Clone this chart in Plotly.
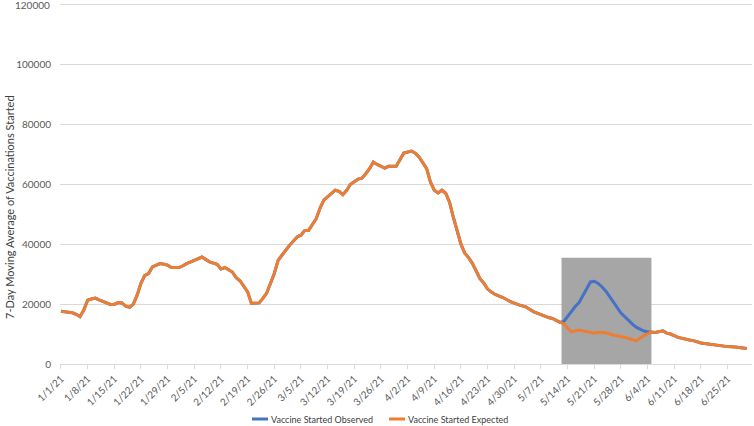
import pandas as pd
import plotly.graph_objects as go

# ---- data (day offsets from 2021-01-01) ----
start_date = "2021-01-01"
expected_days = [0, 2, 3, 4, 5, 6, 7, 8, 9, 10, 12, 13, 14, 15, 16, 17, 18, 19, 20, 21,
                 22, 23, 24, 26, 27, 28, 29, 31, 32, 33, 35, 37, 39, 41, 42, 43, 45, 46, 47, 49,
                 50, 52, 53, 54, 56, 57, 58, 60, 62, 63, 64, 65, 67, 68, 69, 71, 72, 73, 74, 75,
                 76, 78, 79, 80, 81, 82, 83, 85, 86, 88, 89, 90, 92, 93, 94, 96, 97, 98, 99, 100,
                 101, 102, 103, 104, 105, 106, 107, 108, 109, 110, 111, 112, 113, 114, 116, 118, 120, 122, 124, 126,
                 128, 129, 131, 132, 133, 134, 136, 137, 138, 140, 141, 143, 145, 147, 148, 149, 151, 152, 153, 155,
                 156, 158, 159, 160, 162, 165, 166, 168, 170, 171, 173, 175, 177, 179, 180]
expected_values = [17600, 17400, 17100, 16600, 15800, 18000, 21300, 21700, 22000, 21400, 20500, 19900, 19900, 20500, 20400, 19300, 18900, 20000, 23000, 26900,
                   29600, 30200, 32400, 33500, 33300, 33000, 32200, 32200, 32800, 33500, 34600, 35700, 34100, 33300, 31700, 32200, 30700, 28800, 27800, 24100,
                   20200, 20400, 21900, 23700, 30200, 34600, 36300, 39600, 42400, 43000, 44600, 44600, 48500, 52000, 54700, 56900, 58000, 57600, 56500, 58000,
                   60000, 61700, 62000, 63500, 65200, 67400, 66600, 65400, 66000, 66000, 68000, 70400, 71100, 70400, 69100, 65200, 60700, 58000, 57100, 58000,
                   57000, 54000, 49000, 44000, 40000, 37000, 35500, 33600, 31000, 28500, 27000, 25000, 24000, 23200, 22200, 20800, 19800, 19100, 17500, 16400,
                   15500, 15200, 13900, 13400, 12000, 10700, 11300, 11100, 10900, 10300, 10600, 10400, 9700, 9300, 8900, 8500, 7700, 8600, 9500, 10700,
                   10500, 11100, 10300, 10000, 8900, 8000, 7800, 7000, 6700, 6500, 6000, 5800, 5700, 5300, 5200]

# observed differs from expected only inside the highlighted window
window_days = [131, 132, 133, 134, 135, 136, 137, 138, 139, 140, 141, 142, 143, 144, 145,
               146, 147, 148, 149, 150, 151, 152, 153, 154, 155]
window_observed = [13900, 14200, 15900, 17600, 19200, 20500, 22900, 25400, 27400, 27600, 26900, 25800, 24400, 22600, 20800,
                   18800, 17000, 15800, 14500, 13300, 12300, 11600, 11000, 10800, 10700]

shade_start_day = 131.4
shade_end_day = 155.0
shade_top = 35500

y_ticks = [0, 20000, 40000, 60000, 80000, 100000, 120000]
y_top = 120500

tick_labels = ["1/1/21", "1/8/21", "1/15/21", "1/22/21", "1/29/21", "2/5/21", "2/12/21", "2/19/21",
               "2/26/21", "3/5/21", "3/12/21", "3/19/21", "3/26/21", "4/2/21", "4/9/21", "4/16/21",
               "4/23/21", "4/30/21", "5/7/21", "5/14/21", "5/21/21", "5/28/21", "6/4/21", "6/11/21",
               "6/18/21", "6/25/21"]

# ---- build ----
base = pd.Timestamp(start_date)
def to_date(d):
    return base + pd.to_timedelta(d, unit="D")

obs_map = {d: v for d, v in zip(expected_days, expected_values)
           if not (window_days[0] < d < window_days[-1])}
obs_map.update(dict(zip(window_days, window_observed)))
observed_days = sorted(obs_map)
observed_values = [obs_map[d] for d in observed_days]

BLUE = "#4472C4"
ORANGE = "#ED7D31"
FONT = "Lato"
TICK_FONT = dict(family=FONT, size=10, color="#595959")

fig = go.Figure()
fig.add_trace(go.Scatter(x=[to_date(d) for d in observed_days], y=observed_values,
                         mode="lines", name="Vaccine Started Observed",
                         line=dict(color=BLUE, width=3)))
fig.add_trace(go.Scatter(x=[to_date(d) for d in expected_days], y=expected_values,
                         mode="lines", name="Vaccine Started Expected",
                         line=dict(color=ORANGE, width=3)))

fig.add_shape(type="rect", xref="x", yref="y",
              x0=to_date(shade_start_day), x1=to_date(shade_end_day), y0=0, y1=shade_top,
              fillcolor="#a6a6a6", line=dict(width=0), layer="between")

W, H = 754, 426
L, R, T, B = 60, 2, 3, 62
pw, ph = W - L - R, H - T - B

def px(xp):
    return (xp - L) / pw

def py(yp):
    return (H - B - yp) / ph

# y-axis title
fig.add_annotation(text="7-Day Moving Average of Vaccinations Started", xref="paper", yref="paper",
                   x=px(10), y=py(207), textangle=-90, showarrow=False,
                   font=dict(family=FONT, size=11, color="#404040"),
                   xanchor="center", yanchor="middle")

# top y tick label (plotly hides it because it touches the page edge)
fig.add_annotation(text=str(y_ticks[-1]), xref="paper", yref="y", x=px(51), y=y_ticks[-1],
                   showarrow=False, xanchor="right", yanchor="middle", borderpad=0,
                   font=TICK_FONT)

# manual legend
legend_items = [("Vaccine Started Observed", BLUE, 252, 268),
                ("Vaccine Started Expected", ORANGE, 389, 405)]
for name, col, xa, xb in legend_items:
    fig.add_shape(type="line", xref="paper", yref="paper", x0=px(xa), x1=px(xb),
                  y0=py(419), y1=py(419), line=dict(color=col, width=3))
    fig.add_annotation(text=name, xref="paper", yref="paper", x=px(xb + 1), y=py(419),
                       showarrow=False, xanchor="left", yanchor="middle",
                       font=dict(family=FONT, size=9, color="#404040"))

tickvals = [to_date(7 * i) for i in range(len(tick_labels))]

fig.update_layout(
    width=W, height=H,
    margin=dict(l=L, r=R, t=T, b=B, autoexpand=False),
    plot_bgcolor="white", paper_bgcolor="white",
    showlegend=False,
    font=dict(family=FONT, color="#595959"),
    xaxis=dict(range=[to_date(-0.25), to_date(181.4)], tickvals=tickvals, ticktext=tick_labels,
               tickangle=-45, showgrid=False, showline=True, linecolor="#d9d9d9", linewidth=1,
               ticks="outside", ticklen=4, tickcolor="#d9d9d9", automargin=False,
               tickfont=TICK_FONT),
    yaxis=dict(range=[0, y_top], tickvals=y_ticks,
               ticktext=[str(v) if v != y_ticks[-1] else "" for v in y_ticks],
               showgrid=True, gridcolor="#d9d9d9", gridwidth=1,
               zeroline=False, showline=False, ticks="", automargin=False,
               ticklabelstandoff=8,
               tickfont=TICK_FONT),
)

fig.write_html("out.html", config={"displayModeBar": False},
               post_script="document.body.style.margin='0';document.body.style.overflow='hidden';")
